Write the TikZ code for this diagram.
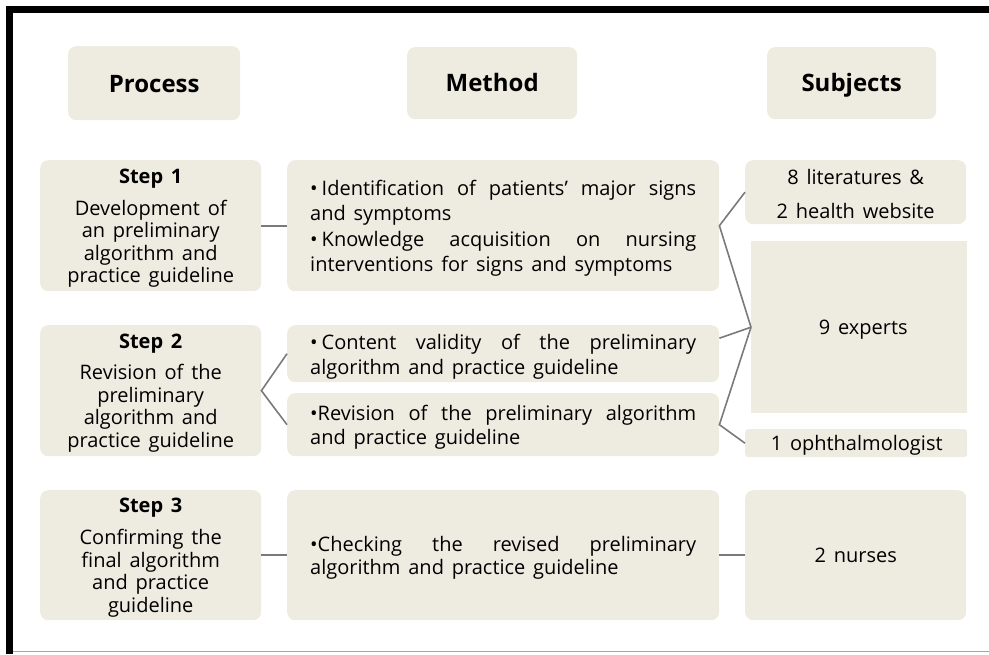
\documentclass[tikz,border=0pt]{standalone}
\usepackage{fontspec}
\setmainfont{Open Sans}[WordSpace=1.5]
\usetikzlibrary{calc}
\definecolor{boxfill}{HTML}{EEECE1}
\definecolor{linkgray}{HTML}{7A7A7A}
\definecolor{framegray}{HTML}{A6A6A6}
\begin{document}
\begin{tikzpicture}[x=1pt,y=-1pt,
  box/.style={fill=boxfill, rounded corners=8pt, inner sep=0pt, anchor=north west},
  txt/.style={inner sep=0pt, align=center, font=\fontsize{20}{22.6}\selectfont},
  headtxt/.style={txt, font=\fontsize{24}{28}\selectfont\bfseries, text height=17pt, text depth=0pt},
  onetxt/.style={txt, text height=15pt, text depth=0pt},
  methtxt/.style={txt, text width=386pt, align=justify},
  link/.style={draw=linkgray, line width=1.6pt}]
\useasboundingbox (0,0) rectangle (989,654);
% frame
\draw[line width=7pt] (9.5,654) -- (9.5,9.5) -- (989,9.5);
\draw[draw=framegray, line width=1.5pt] (13,651.5) -- (989,651.5);
% headers
\node[box, minimum width=172pt, minimum height=74pt] (hp) at (68,46) {};
\node[box, minimum width=170pt, minimum height=72pt] (hm) at (407,47) {};
\node[box, minimum width=169pt, minimum height=72pt] (hs) at (767,47) {};
\node[headtxt] (hpt) at ([yshift=-0.5pt]hp.center) {Process};
\node[headtxt] (hmt) at ([yshift=0pt]hm.center) {Method};
\node[headtxt] (hst) at ([yshift=0pt]hs.center) {Subjects};
% steps
\node[box, minimum width=221pt, minimum height=131pt] (st1) at (40,160) {};
\node[box, minimum width=221pt, minimum height=131pt] (st2) at (40,325) {};
\node[box, minimum width=221pt, minimum height=130pt] (st3) at (40,490) {};
\node[txt] (st1t) at ([yshift=-2.5pt]st1.center)
  {\textbf{Step 1}\\[9.4pt]Development of\\an preliminary\\algorithm and\\practice guideline};
\node[txt] (st2t) at ([yshift=-2.5pt]st2.center)
  {\textbf{Step 2}\\[8.4pt]Revision of the\\preliminary\\algorithm and\\practice guideline};
\node[txt] (st3t) at ([yshift=-2.5pt]st3.center)
  {\textbf{Step 3}\\[9.4pt]Confirming the\\final algorithm\\and practice\\guideline};
% methods
\node[box, minimum width=432pt, minimum height=131pt] (m1) at (287,160) {};
\node[box, minimum width=432pt, minimum height=57pt] (m2a) at (287,325) {};
\node[box, minimum width=432pt, minimum height=63pt] (m2b) at (287,393) {};
\node[box, minimum width=432pt, minimum height=130pt] (m3) at (287,490) {};
\node[methtxt, font=\fontsize{20}{25.3}\selectfont] (m1t) at ([yshift=-2.5pt]m1.center)
  {\makebox[386pt][s]{•\kern4pt Identification of patients’ major signs}\\and symptoms\\\makebox[386pt][s]{•\kern4pt Knowledge acquisition on nursing}\\interventions for signs and symptoms};
\node[methtxt, font=\fontsize{20}{25}\selectfont] (m2at) at ([yshift=-3pt]m2a.center)
  {\makebox[386pt][s]{•\kern4pt Content validity of the preliminary}\\algorithm and practice guideline};
\node[methtxt, font=\fontsize{20}{24}\selectfont] (m2bt) at ([yshift=-3pt]m2b.center)
  {\makebox[386pt][s]{•Revision of the preliminary algorithm}\\and practice guideline};
\node[methtxt, font=\fontsize{20}{23}\selectfont] (m3t) at ([yshift=-3pt]m3.center)
  {\makebox[386pt][s]{•Checking the revised preliminary}\\algorithm and practice guideline};
% subjects
\node[box, minimum width=221pt, minimum height=64pt] (sb1) at (745,160) {};
\node[box, rounded corners=0pt, minimum width=216pt, minimum height=172pt] (sb2) at (751,241) {};
\node[box, rounded corners=3pt, minimum width=222pt, minimum height=28pt] (sb3) at (745,429) {};
\node[box, minimum width=221pt, minimum height=130pt] (sb4) at (745,490) {};
\node[txt, font=\fontsize{20}{34}\selectfont] (sb1t) at ([yshift=-1.5pt]sb1.center) {8 literatures \&\\2 health website};
\node[onetxt] (sb2t) at ([xshift=4pt]sb2.center) {9 experts};
\node[onetxt] (sb3t) at ([xshift=0.5pt]sb3.center) {1 ophthalmologist};
\node[onetxt] (sb4t) at (sb4.center) {2 nurses};
% connectors
\draw[link] (st1.east) -- (m1.west);
\draw[link] (m2a.west) -- (st2.east) -- (m2b.west);
\draw[link] (st3.east) -- (m3.west);
\draw[link] (sb1.west) -- (m1.east) -- (sb2.west);
\draw[link] ([yshift=15.5pt]m2a.east) -- (sb2.west);
\draw[link] (sb2.west) -- (m2b.east) -- (sb3.west);
\draw[link] (m3.east) -- (sb4.west);
\end{tikzpicture}
\end{document}
